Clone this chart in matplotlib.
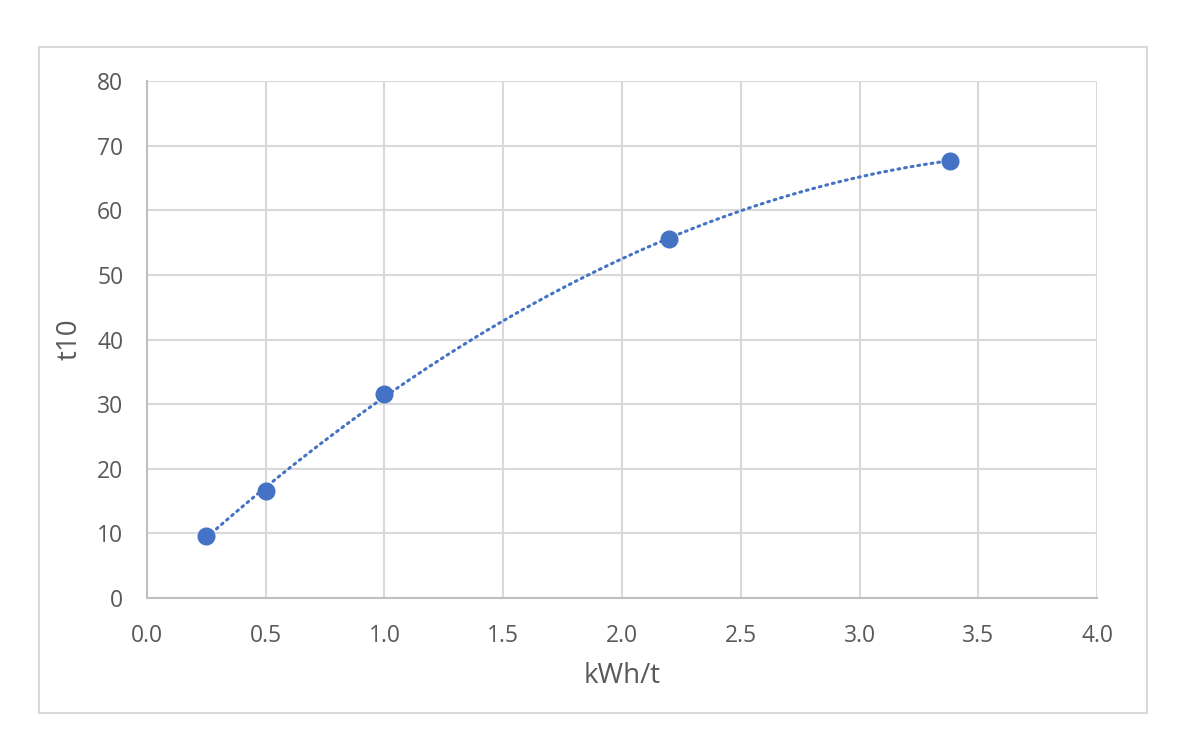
import matplotlib.pyplot as plt
import numpy as np
from matplotlib.patches import Rectangle

plt.rcParams['font.family'] = ['Open Sans', 'DejaVu Sans']

kwh = [0.25, 0.5, 1.0, 2.2, 3.38]
t10 = [9.6, 16.6, 31.5, 55.6, 67.7]

blue = '#4472C4'
grey = '#595959'

fig = plt.figure(figsize=(11.87, 7.53), dpi=100)
ax = fig.add_axes([0.1238, 0.2058, 0.8004, 0.6866])

# order 2 polynomial trendline like excel
coef = np.polyfit(kwh, t10, 2)
xs = np.linspace(min(kwh), max(kwh), 200)
ax.plot(xs, np.polyval(coef, xs), color=blue, lw=2.2, linestyle=(0, (0.6, 1.6)),
        dash_capstyle='round', zorder=3)
ax.plot(kwh, t10, 'o', color=blue, markersize=12, zorder=4)

ax.set_xlim(0, 4)
ax.set_ylim(0, 80)
ax.set_xticks(np.arange(0, 4.01, 0.5))
ax.set_xticklabels(['%.1f' % v for v in np.arange(0, 4.01, 0.5)])
ax.set_yticks(range(0, 81, 10))
ax.grid(True, color='#d9d9d9', lw=1.5)
ax.set_axisbelow(True)
for s in ['top', 'right']:
    ax.spines[s].set_visible(False)
for s in ['left', 'bottom']:
    ax.spines[s].set_color('#bfbfbf')
    ax.spines[s].set_linewidth(1.5)
ax.tick_params(length=0, labelsize=16.5, colors=grey)
ax.tick_params(axis='x', pad=19)
ax.tick_params(axis='y', pad=17)
ax.set_xlabel('kWh/t', fontsize=20, color=grey, labelpad=10)
ax.set_ylabel('t10', fontsize=20, color=grey, labelpad=10)

fig.patches.append(Rectangle((0.0329, 0.0531), 0.9334, 0.8845, transform=fig.transFigure,
                             fill=False, edgecolor='#d9d9d9', lw=1.5))

fig.savefig('out.png', dpi=100)
